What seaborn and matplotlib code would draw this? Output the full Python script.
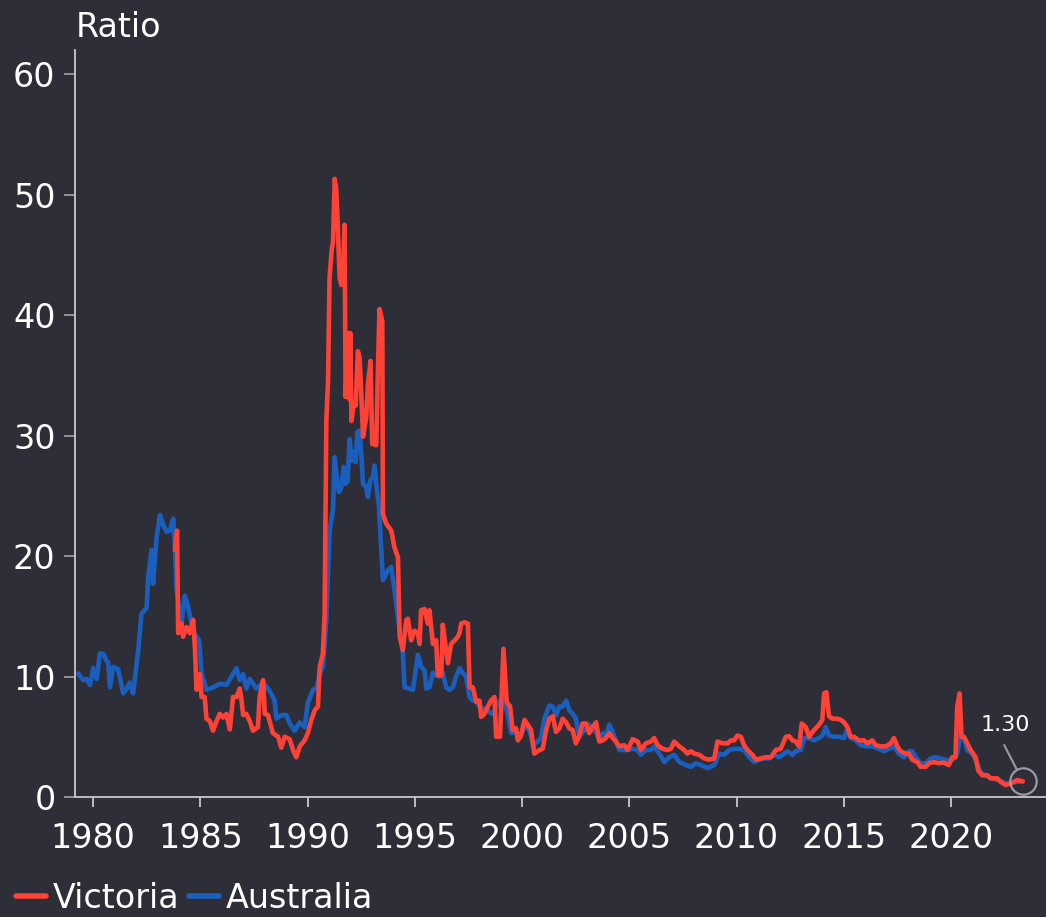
import matplotlib
matplotlib.use("Agg")
import matplotlib.pyplot as plt
import seaborn as sns
import pandas as pd

# ---------------- data ----------------
au_years = [
    1979.30, 1979.53, 1979.69, 1979.85, 1980.00, 1980.16, 1980.31, 1980.47, 1980.62, 1980.70,
    1980.78, 1980.93, 1981.16, 1981.40, 1981.56, 1981.71, 1981.86, 1982.10, 1982.25, 1982.49,
    1982.56, 1982.72, 1982.79, 1982.95, 1983.11, 1983.26, 1983.42, 1983.57, 1983.73, 1983.81,
    1983.88, 1984.12, 1984.27, 1984.42, 1984.58, 1984.74, 1984.94, 1985.05, 1985.28, 1985.59,
    1985.90, 1986.21, 1986.52, 1986.68, 1986.83, 1986.99, 1987.14, 1987.30, 1987.61, 1987.92,
    1988.23, 1988.46, 1988.54, 1988.77, 1989.01, 1989.16, 1989.39, 1989.63, 1989.86, 1990.01,
    1990.25, 1990.41, 1990.56, 1990.71, 1990.87, 1991.02, 1991.18, 1991.26, 1991.36, 1991.46,
    1991.57, 1991.68, 1991.77, 1991.86, 1991.96, 1992.04, 1992.14, 1992.24, 1992.32, 1992.42,
    1992.52, 1992.58, 1992.71, 1992.81, 1992.92, 1993.03, 1993.12, 1993.23, 1993.32, 1993.51,
    1993.74, 1993.90, 1994.05, 1994.21, 1994.44, 1994.52, 1994.75, 1994.91, 1995.06, 1995.14,
    1995.29, 1995.45, 1995.53, 1995.68, 1995.84, 1995.99, 1996.15, 1996.30, 1996.46, 1996.61,
    1996.77, 1996.92, 1997.08, 1997.23, 1997.39, 1997.55, 1997.70, 1997.86, 1998.01, 1998.32,
    1998.63, 1998.94, 1999.18, 1999.33, 1999.49, 1999.72, 1999.88, 2000.11, 2000.34, 2000.50,
    2000.65, 2000.88, 2001.04, 2001.27, 2001.43, 2001.58, 2001.74, 2001.89, 2002.05, 2002.20,
    2002.36, 2002.51, 2002.67, 2002.82, 2002.98, 2003.13, 2003.29, 2003.45, 2003.60, 2003.76,
    2003.91, 2004.07, 2004.22, 2004.38, 2004.53, 2004.84, 2005.15, 2005.39, 2005.54, 2005.77,
    2006.01, 2006.16, 2006.40, 2006.63, 2006.86, 2007.09, 2007.33, 2007.64, 2007.87, 2008.10,
    2008.34, 2008.65, 2008.96, 2009.19, 2009.42, 2009.66, 2009.89, 2010.12, 2010.35, 2010.59,
    2010.82, 2011.05, 2011.29, 2011.52, 2011.75, 2011.98, 2012.22, 2012.37, 2012.61, 2012.76,
    2012.99, 2013.15, 2013.38, 2013.61, 2013.85, 2014.00, 2014.16, 2014.31, 2014.55, 2014.78,
    2015.01, 2015.14, 2015.32, 2015.56, 2015.79, 2016.02, 2016.33, 2016.64, 2016.87, 2017.11,
    2017.34, 2017.57, 2017.81, 2018.04, 2018.19, 2018.35, 2018.58, 2018.82, 2019.05, 2019.28,
    2019.52, 2019.75, 2019.98, 2020.14, 2020.29, 2020.45, 2020.60, 2020.76, 2020.99, 2021.22,
    2021.38, 2021.61, 2021.92, 2022.23, 2022.54, 2022.85, 2023.09, 2023.32,
]
au_ratio = [
    10.25, 9.7, 9.8, 9.3, 10.7, 9.8, 11.9, 11.9, 11.3, 11.2,
    9.1, 10.8, 10.6, 8.6, 9.0, 9.5, 8.6, 12.2, 15.2, 15.7,
    18.2, 20.5, 17.7, 21.5, 23.4, 22.6, 22.0, 22.1, 23.1, 20.7,
    17.4, 14.4, 16.7, 15.8, 14.4, 13.5, 13.0, 10.25, 8.9, 9.1,
    9.4, 9.3, 10.2, 10.7, 9.7, 10.2, 9.0, 9.8, 9.0, 9.5,
    8.8, 8.0, 6.5, 6.8, 6.8, 6.1, 5.5, 6.2, 5.8, 7.8,
    8.9, 9.0, 10.2, 10.8, 14.7, 22.1, 23.8, 28.2, 26.5, 25.3,
    25.7, 27.4, 26.0, 26.2, 29.7, 27.9, 28.7, 27.8, 30.3, 30.4,
    27.9, 26.0, 25.8, 24.9, 26.3, 26.5, 27.5, 25.4, 24.2, 18.0,
    18.8, 19.1, 17.2, 14.9, 11.9, 9.1, 9.0, 8.9, 10.8, 11.8,
    10.8, 10.5, 9.0, 9.1, 10.3, 10.1, 10.0, 10.3, 9.1, 8.9,
    9.1, 10.0, 10.7, 10.3, 10.0, 8.3, 8.0, 8.0, 7.5, 7.2,
    6.9, 8.0, 7.8, 6.9, 5.3, 5.4, 5.0, 5.8, 5.6, 4.3,
    4.5, 4.9, 6.5, 7.6, 7.5, 6.8, 7.5, 7.5, 8.0, 7.2,
    6.9, 6.5, 5.0, 5.4, 5.6, 6.0, 5.6, 5.4, 4.7, 5.3,
    5.1, 6.0, 5.4, 4.6, 3.9, 3.9, 4.0, 3.9, 3.5, 3.9,
    3.9, 4.2, 3.6, 2.9, 3.3, 3.5, 2.9, 2.65, 2.5, 2.8,
    2.65, 2.4, 2.65, 3.6, 3.5, 3.9, 4.0, 4.0, 3.9, 3.3,
    2.9, 3.1, 3.2, 3.2, 3.5, 3.3, 3.6, 3.8, 3.5, 3.8,
    3.9, 4.9, 4.9, 4.7, 4.9, 5.1, 5.8, 5.1, 5.0, 5.0,
    4.9, 5.5, 4.9, 4.7, 4.3, 4.2, 4.2, 4.0, 3.8, 4.0,
    4.2, 3.6, 3.3, 3.8, 3.8, 3.3, 2.8, 2.8, 3.2, 3.3,
    3.2, 3.1, 3.0, 3.2, 3.6, 5.3, 4.9, 3.9, 3.6, 2.8,
    2.0, 1.8, 1.55, 1.4, 1.13, 1.18, 1.27, 1.27,
]

vic_years = [
    1983.81, 1983.91, 1983.96, 1984.12, 1984.19, 1984.35, 1984.50, 1984.66, 1984.74, 1984.82,
    1984.97, 1985.05, 1985.20, 1985.28, 1985.44, 1985.59, 1985.75, 1985.90, 1986.05, 1986.21,
    1986.37, 1986.52, 1986.68, 1986.83, 1986.91, 1986.99, 1987.14, 1987.30, 1987.45, 1987.68,
    1987.76, 1987.92, 1988.00, 1988.15, 1988.38, 1988.62, 1988.77, 1988.93, 1989.16, 1989.32,
    1989.47, 1989.63, 1989.86, 1990.01, 1990.17, 1990.33, 1990.48, 1990.56, 1990.71, 1990.79,
    1990.87, 1990.95, 1991.02, 1991.13, 1991.18, 1991.26, 1991.33, 1991.41, 1991.49, 1991.57,
    1991.64, 1991.72, 1991.77, 1991.88, 1991.96, 1991.99, 1992.04, 1992.14, 1992.24, 1992.34,
    1992.42, 1992.50, 1992.58, 1992.73, 1992.81, 1992.89, 1992.93, 1993.01, 1993.20, 1993.27,
    1993.35, 1993.48, 1993.51, 1993.66, 1993.90, 1994.05, 1994.21, 1994.29, 1994.44, 1994.60,
    1994.67, 1994.83, 1994.98, 1995.14, 1995.22, 1995.29, 1995.45, 1995.60, 1995.68, 1995.76,
    1995.84, 1995.99, 1996.07, 1996.23, 1996.30, 1996.38, 1996.54, 1996.69, 1996.85, 1997.00,
    1997.08, 1997.16, 1997.31, 1997.47, 1997.55, 1997.70, 1997.86, 1998.01, 1998.09, 1998.24,
    1998.40, 1998.55, 1998.71, 1998.79, 1998.97, 1999.13, 1999.28, 1999.44, 1999.56, 1999.72,
    1999.80, 1999.95, 2000.11, 2000.26, 2000.42, 2000.57, 2000.81, 2000.96, 2001.12, 2001.27,
    2001.43, 2001.58, 2001.74, 2001.89, 2002.05, 2002.20, 2002.36, 2002.51, 2002.67, 2002.82,
    2002.98, 2003.13, 2003.29, 2003.45, 2003.60, 2003.76, 2003.91, 2004.07, 2004.22, 2004.38,
    2004.53, 2004.77, 2004.92, 2005.15, 2005.39, 2005.54, 2005.77, 2006.01, 2006.16, 2006.32,
    2006.55, 2006.78, 2006.94, 2007.09, 2007.33, 2007.56, 2007.71, 2007.87, 2008.03, 2008.26,
    2008.49, 2008.72, 2008.96, 2009.11, 2009.35, 2009.58, 2009.73, 2009.89, 2010.04, 2010.20,
    2010.35, 2010.51, 2010.74, 2010.90, 2011.13, 2011.36, 2011.60, 2011.83, 2012.06, 2012.30,
    2012.45, 2012.61, 2012.76, 2012.92, 2013.04, 2013.23, 2013.38, 2013.54, 2013.69, 2013.85,
    2014.00, 2014.08, 2014.19, 2014.31, 2014.47, 2014.70, 2014.86, 2015.01, 2015.17, 2015.32,
    2015.48, 2015.71, 2015.94, 2016.10, 2016.33, 2016.49, 2016.72, 2016.95, 2017.19, 2017.34,
    2017.50, 2017.65, 2017.88, 2018.04, 2018.19, 2018.43, 2018.58, 2018.82, 2018.97, 2019.20,
    2019.44, 2019.67, 2019.90, 2020.06, 2020.21, 2020.29, 2020.40, 2020.49, 2020.60, 2020.76,
    2020.91, 2021.15, 2021.27, 2021.46, 2021.69, 2021.84, 2022.00, 2022.15, 2022.31, 2022.54,
    2022.78, 2022.93, 2023.09, 2023.35,
]
vic_ratio = [
    20.5, 22.1, 13.6, 14.4, 13.3, 14.1, 13.6, 14.7, 12.4, 8.9,
    10.2, 8.3, 8.3, 6.5, 6.3, 5.5, 6.3, 6.9, 6.6, 6.9,
    5.6, 8.3, 8.3, 9.0, 8.1, 6.8, 6.9, 6.3, 5.5, 5.8,
    8.3, 9.7, 6.9, 6.8, 5.3, 5.0, 4.1, 5.0, 4.8, 3.9,
    3.3, 4.2, 4.7, 5.3, 6.4, 7.2, 7.5, 10.8, 11.9, 15.2,
    31.2, 34.5, 43.1, 45.6, 46.0, 51.3, 50.5, 47.2, 43.1, 42.5,
    43.0, 47.5, 33.2, 38.5, 33.0, 38.5, 31.2, 32.5, 32.5, 37.0,
    36.5, 33.5, 29.9, 31.5, 34.3, 35.5, 36.2, 29.3, 29.2, 35.0,
    40.5, 39.5, 23.5, 22.7, 22.1, 20.7, 19.9, 13.3, 12.2, 14.7,
    14.8, 13.0, 13.8, 13.6, 12.7, 15.5, 15.6, 14.4, 15.5, 14.1,
    12.7, 13.0, 10.1, 10.1, 14.3, 13.2, 11.1, 12.7, 13.0, 13.3,
    13.6, 14.4, 14.5, 14.4, 9.1, 9.1, 7.9, 8.0, 6.65, 6.9,
    7.5, 8.0, 8.3, 5.0, 5.0, 12.3, 7.9, 7.5, 5.55, 5.7,
    4.7, 5.1, 6.4, 6.0, 5.55, 3.6, 3.9, 4.0, 5.55, 6.5,
    6.7, 5.4, 5.7, 6.5, 6.2, 5.7, 5.55, 4.45, 5.1, 6.1,
    6.1, 5.3, 5.8, 6.2, 4.6, 4.7, 4.9, 5.3, 4.9, 4.6,
    4.2, 4.3, 3.9, 4.8, 4.6, 3.9, 4.45, 4.6, 4.9, 4.3,
    4.0, 3.9, 4.0, 4.6, 4.2, 3.9, 3.6, 3.8, 3.6, 3.5,
    3.2, 3.1, 3.2, 4.6, 4.45, 4.45, 4.7, 4.7, 5.1, 5.0,
    4.3, 3.9, 3.5, 3.1, 3.2, 3.3, 3.3, 3.9, 4.0, 5.0,
    5.05, 4.7, 4.6, 4.2, 6.1, 5.8, 5.0, 5.4, 5.7, 6.0,
    6.4, 8.6, 8.7, 6.7, 6.5, 6.5, 6.4, 6.2, 5.8, 5.0,
    5.0, 4.7, 4.7, 4.45, 4.7, 4.3, 4.2, 4.2, 4.45, 4.9,
    4.2, 3.8, 3.6, 3.6, 3.1, 2.9, 2.5, 2.5, 2.8, 2.9,
    2.8, 2.85, 2.65, 3.3, 3.3, 7.5, 8.6, 5.0, 5.0, 4.45,
    3.9, 3.3, 2.2, 1.8, 1.8, 1.55, 1.55, 1.55, 1.27, 0.99,
    1.13, 1.27, 1.41, 1.30,
]

series_names = ["Victoria", "Australia"]
x_ticks = [1980, 1985, 1990, 1995, 2000, 2005, 2010, 2015, 2020]
y_ticks = [0, 10, 20, 30, 40, 50, 60]
y_label = "Ratio"
last_label = "1.30"

# ---------------- style ----------------
BG = "#2e2e38"
RED = "#ff4136"
BLUE = "#1a5fbd"
GREY = "#9a9aa0"
SPINE = "#c8c8cc"

sns.set_theme(style="ticks")
plt.rcParams["font.family"] = ["DejaVu Sans"]
plt.rcParams["figure.facecolor"] = BG
plt.rcParams["axes.facecolor"] = BG

fig = plt.figure(figsize=(10.46, 9.17), dpi=100)
ax = fig.add_axes([75 / 1046, 1 - 797 / 917, 1 - 75 / 1046, (797 - 50) / 917])
ax.set_facecolor(BG)

df_au = pd.DataFrame({"year": au_years, "ratio": au_ratio})
df_vic = pd.DataFrame({"year": vic_years, "ratio": vic_ratio})

sns.lineplot(data=df_au, x="year", y="ratio", color=BLUE, lw=3.3, ax=ax,
             label=series_names[1])
sns.lineplot(data=df_vic, x="year", y="ratio", color=RED, lw=3.3, ax=ax,
             label=series_names[0])

ax.set_xlim(1979.15, 2024.43)
ax.set_ylim(0, 62)
ax.set_xticks(x_ticks)
ax.set_yticks(y_ticks)
ax.set_xlabel("")
ax.set_ylabel("")

for s in ["top", "right"]:
    ax.spines[s].set_visible(False)
for s in ["left", "bottom"]:
    ax.spines[s].set_color(SPINE)
    ax.spines[s].set_linewidth(1.3)

ax.tick_params(axis="x", colors=SPINE, labelcolor="white", labelsize=24,
               length=7, width=1.3, pad=10.8)
ax.tick_params(axis="y", colors=GREY, labelcolor="white", labelsize=24,
               length=8, width=1.3, pad=6)

fig.text(76 / 1046, 1 - 37 / 917, y_label, color="white", fontsize=24,
         ha="left", va="baseline")

# annotation of last value
lx, ly = vic_years[-1], vic_ratio[-1]
ax.plot([lx], [ly], marker="o", ms=19, mfc="none", mec=GREY, mew=1.6,
        clip_on=False, zorder=5)
ax.annotate("", xy=(lx, ly), xytext=(-13.4, 26.1), textcoords="offset points",
            arrowprops=dict(arrowstyle="-", color=GREY, lw=1.5,
                            shrinkA=0, shrinkB=9.4))
ax.annotate(last_label, xy=(lx, ly), xytext=(-12.5, 36), textcoords="offset points",
            ha="center", va="baseline", color="white", fontsize=16)

# legend
handles, labels = ax.get_legend_handles_labels()
order = [labels.index(n) for n in series_names]
ax.legend_.remove()
leg = fig.legend([handles[i] for i in order], [labels[i] for i in order],
                 loc="center left", bbox_to_anchor=(16 / 1046, 1 - 898 / 917),
                 ncol=2, frameon=False, fontsize=24, handlelength=0.9,
                 handletextpad=0.2, columnspacing=0.3, borderpad=0,
                 borderaxespad=0)
for t in leg.get_texts():
    t.set_color("white")
for h in leg.legend_handles:
    h.set_linewidth(4)

fig.savefig("out.png", dpi=100, facecolor=BG)
